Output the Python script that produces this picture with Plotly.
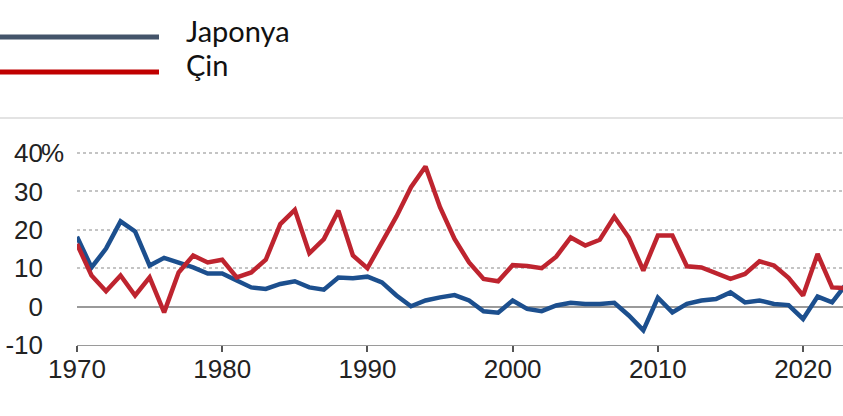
import plotly.graph_objects as go

years = list(range(1970, 2024))

japan = [18.2, 10.2, 15.1, 22.2, 19.6, 10.7, 12.7, 11.5, 10.2, 8.6,
         8.6, 6.8, 5.0, 4.6, 5.9, 6.6, 5.0, 4.4, 7.6, 7.4,
         7.8, 6.3, 2.9, 0.1, 1.6, 2.4, 3.0, 1.6, -1.2, -1.6,
         1.6, -0.6, -1.2, 0.3, 1.0, 0.7, 0.7, 1.0, -2.3, -6.2,
         2.3, -1.5, 0.7, 1.6, 2.0, 3.7, 1.1, 1.6, 0.7, 0.4,
         -3.2, 2.6, 1.1, 6.0]

china = [16.3, 8.1, 4.0, 8.1, 2.9, 7.6, -1.5, 8.9, 13.3, 11.5,
         12.2, 7.6, 8.9, 12.2, 21.5, 25.2, 13.9, 17.6, 25.0, 13.3,
         10.0, 16.7, 23.5, 31.1, 36.5, 25.9, 17.6, 11.5, 7.2, 6.6,
         10.8, 10.6, 10.0, 13.0, 18.0, 15.9, 17.4, 23.4, 18.0, 9.4,
         18.5, 18.5, 10.5, 10.2, 8.6, 7.2, 8.5, 11.8, 10.7, 7.5,
         2.9, 13.7, 5.0, 4.8]

series_names = ["Japonya", "Çin"]
x_ticks = [1970, 1980, 1990, 2000, 2010, 2020]
y_ticks = [-10, 0, 10, 20, 30, 40]
y_ticktext = ["-10", "0", "10", "20", "30", "40"]

W, H = 843, 416
ML, MR, MT, MB = 77, 0, 130, 71
pw = W - ML - MR
ph = H - MT - MB

def px_x(p):
    return (p - ML) / pw

def px_y(p):
    return (H - MB - p) / ph

fig = go.Figure()
fig.add_trace(go.Scatter(x=years, y=japan, mode="lines", name=series_names[0],
                         line=dict(color="#1c4f8e", width=4.5), showlegend=False))
fig.add_trace(go.Scatter(x=years, y=china, mode="lines", name=series_names[1],
                         line=dict(color="#be242f", width=4.5), showlegend=False))

tick_font = dict(family="Liberation Sans, Arial, sans-serif", size=26, color="#222222")

fig.update_layout(
    width=W, height=H,
    margin=dict(l=ML, r=MR, t=MT, b=MB, pad=0),
    paper_bgcolor="white", plot_bgcolor="white",
    showlegend=False,
    xaxis=dict(range=[1970, 2022.75], tickvals=x_ticks, ticktext=[str(v) for v in x_ticks],
               showgrid=False, zeroline=False, showline=True, linecolor="#9a9a9a", linewidth=1.2,
               ticks="outside", ticklen=6, tickwidth=1.5, tickcolor="#555555",
               ticklabelstandoff=-5, tickfont=tick_font, fixedrange=True),
    yaxis=dict(range=[-10, 46], tickvals=y_ticks, ticktext=y_ticktext,
               showgrid=True, gridcolor="#c4c4c4", gridwidth=1.5, griddash="dot",
               zeroline=True, zerolinecolor="#9a9a9a", zerolinewidth=1.5,
               ticks="", ticklabelstandoff=33, tickfont=tick_font, fixedrange=True),
)

# "%" hanging after the top tick label
fig.add_annotation(x=px_x(40), y=40, xref="paper", yref="y", text="%", showarrow=False,
                   xanchor="left", yanchor="middle", font=tick_font, borderpad=0)

# top separator line
fig.add_shape(type="line", xref="paper", yref="paper", x0=px_x(0), x1=px_x(W), y0=px_y(118), y1=px_y(118),
              line=dict(color="#c8c8c8", width=1.2))

# legend
leg_colors = ["#44546a", "#c00000"]
leg_y = [37, 72]
for name, col, yy in zip(series_names, leg_colors, leg_y):
    fig.add_shape(type="line", xref="paper", yref="paper", x0=px_x(0), x1=px_x(159),
                  y0=px_y(yy), y1=px_y(yy), line=dict(color=col, width=5))
    fig.add_annotation(x=px_x(184), y=px_y(yy - 7), xref="paper", yref="paper", text=name,
                       showarrow=False, xanchor="left", yanchor="middle",
                       font=dict(family="Lato, Noto Sans, sans-serif", size=29, color="#111111"))

fig.write_html("out.html", config={"displayModeBar": False},
               post_script="document.body.style.margin='0';document.body.style.padding='0';")
